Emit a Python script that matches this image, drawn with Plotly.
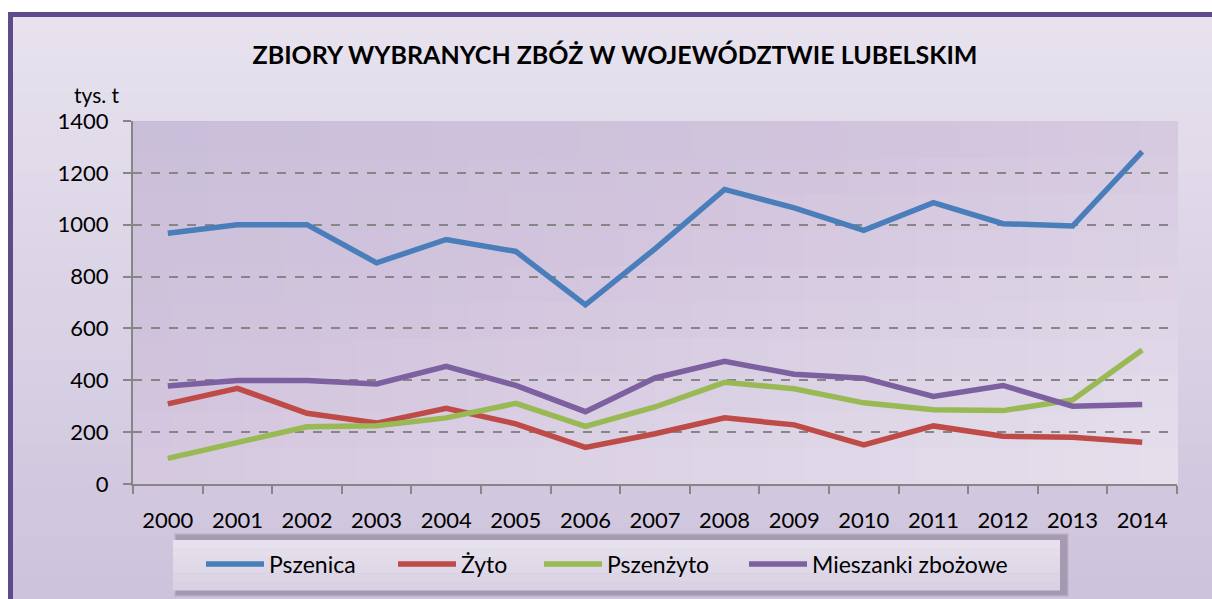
import plotly.graph_objects as go

years = [str(y) for y in range(2000, 2015)]
pszenica = [967, 1000, 1000, 853, 943, 897, 691, 907, 1136, 1065, 978, 1085, 1004, 995, 1282]
zyto = [309, 369, 273, 235, 292, 232, 141, 194, 255, 228, 151, 224, 184, 180, 161]
pszenzyto = [99, 158, 221, 225, 255, 311, 222, 297, 392, 367, 313, 286, 283, 324, 517]
mieszanki = [378, 399, 399, 386, 454, 380, 279, 409, 473, 423, 408, 338, 380, 300, 307]

series = [
    ("Pszenica", pszenica, "#4a7ebb"),
    ("Żyto", zyto, "#be4b48"),
    ("Pszenżyto", pszenzyto, "#98b954"),
    ("Mieszanki zbożowe", mieszanki, "#7d60a0"),
]
legend_x = [209, 401, 547, 752]  # page px where each legend line starts

W, H = 1212, 599
PL, PR, PT, PB = 133, 1177, 121, 484  # plot area in page pixels
FONT = "Lato"


def px(x, y):
    """page pixel -> paper coords"""
    return (x - PL) / (PR - PL), (PB - y) / (PB - PT)


def mix(a, b, t):
    return tuple(round(a[k] + (b[k] - a[k]) * t) for k in range(3))


def rgb(c):
    return "rgb(%d,%d,%d)" % c


fig = go.Figure()
for i, (name, vals, col) in enumerate(series):
    fig.add_trace(go.Scatter(x=years, y=vals, name=name, mode="lines",
                             line=dict(color=col, width=5.5),
                             legend="legend" if i == 0 else "legend%d" % (i + 1)))

shapes = []
# outer background: vertical gradient inside the frame
top_c, bot_c = (231, 226, 238), (205, 195, 220)
n = 30
fy0, fy1 = 14.5, 600
for i in range(n):
    ya = fy0 + (fy1 - fy0) * i / n
    yb = fy0 + (fy1 - fy0) * (i + 1) / n + 1
    xa, pa = px(10.5, ya)
    xb, pb = px(1240, yb)
    shapes.append(dict(type="rect", xref="paper", yref="paper", x0=xa, x1=xb, y0=pb, y1=pa,
                       fillcolor=rgb(mix(top_c, bot_c, i / (n - 1))), line=dict(width=0),
                       layer="below"))
# frame border
x0, y0 = px(10.5, 14.5)
x1, y1 = px(1240, 640)
shapes.append(dict(type="rect", xref="paper", yref="paper", x0=x0, y0=y1, x1=x1, y1=y0,
                   fillcolor="rgba(0,0,0,0)", line=dict(color="#5f4b8b", width=5), layer="below"))
# plot area: diagonal gradient (top-left darker, bottom-right lighter)
ca, cm, cb = (201, 190, 217), (210, 196, 221), (230, 225, 237)
nx, ny = 28, 10
for i in range(nx):
    for j in range(ny):
        t = ((i + 0.5) / nx + (j + 0.5) / ny) / 2
        c = mix(ca, cm, t / 0.4) if t < 0.4 else mix(cm, cb, (t - 0.4) / 0.6)
        shapes.append(dict(type="rect", xref="paper", yref="paper",
                           x0=i / nx, x1=(i + 1) / nx + 0.001,
                           y0=1 - (j + 1) / ny - 0.002, y1=1 - j / ny,
                           fillcolor=rgb(c), line=dict(width=0), layer="below"))
# legend shadow (soft, layered) + box
for k, a in enumerate([0.08, 0.10, 0.13]):
    sx0, sy0 = px(174 + k, 533 + k)
    sx1, sy1 = px(1069 - k, 597 - k)
    shapes.append(dict(type="rect", xref="paper", yref="paper", x0=sx0, y0=sy1, x1=sx1, y1=sy0,
                       fillcolor="rgba(60,50,70,%.2f)" % a, line=dict(width=0), layer="below"))
lb_top, lb_bot = (230, 225, 237), (218, 210, 228)
m = 6
for i in range(m):
    ya = 540 + 50 * i / m
    yb = 540 + 50 * (i + 1) / m + 0.5
    xa, pa = px(173, ya)
    xb, pb = px(1060, yb)
    shapes.append(dict(type="rect", xref="paper", yref="paper", x0=xa, x1=xb, y0=pb, y1=pa,
                       fillcolor=rgb(mix(lb_top, lb_bot, i / (m - 1))), line=dict(width=0),
                       layer="below"))

ax, ay = px(97, 95)

legends = {}
for i, lx in enumerate(legend_x):
    legends["legend" if i == 0 else "legend%d" % (i + 1)] = dict(
        orientation="h", xref="container", yref="container",
        x=(lx - 8) / W, y=1 - 564 / H, xanchor="left", yanchor="middle",
        bgcolor="rgba(0,0,0,0)", font=dict(family=FONT, size=23, color="black"),
        itemwidth=58, borderwidth=0)

fig.update_layout(
    width=W, height=H,
    margin=dict(l=PL, r=W - PR, t=PT, b=H - PB, pad=0, autoexpand=False),
    paper_bgcolor="white",
    plot_bgcolor="rgba(0,0,0,0)",
    font=dict(family=FONT, size=22, color="black"),
    title=dict(text="<b>ZBIORY WYBRANYCH ZBÓŻ W WOJEWÓDZTWIE LUBELSKIM</b>",
               xref="container", yref="container", x=615 / W, y=1 - 55 / H,
               xanchor="center", yanchor="middle",
               font=dict(family=FONT, size=25, color="black")),
    shapes=shapes,
    annotations=[dict(text="tys. t", xref="paper", yref="paper", x=ax, y=ay,
                      showarrow=False, xanchor="center", yanchor="middle",
                      font=dict(family=FONT, size=21))],
    showlegend=True,
    xaxis=dict(type="category", showgrid=False, showline=True, linecolor="#868686",
               linewidth=2, ticks="outside", ticklen=8, tickcolor="#868686", tickwidth=1.5,
               tickson="boundaries", ticklabelstandoff=16, range=[-0.5, 14.5],
               automargin=False),
    yaxis=dict(range=[0, 1400], dtick=200, showgrid=True, gridcolor="#868686",
               griddash="dash", gridwidth=1.5, showline=True, linecolor="#868686",
               linewidth=2, ticks="outside", ticklen=8, tickcolor="#868686", tickwidth=1.5,
               zeroline=False, ticklabelstandoff=10, automargin=False),
    **legends,
)

fig.write_html("out.html", config={"displayModeBar": False},
               post_script="document.body.style.margin='0';document.body.style.overflow='hidden';")
